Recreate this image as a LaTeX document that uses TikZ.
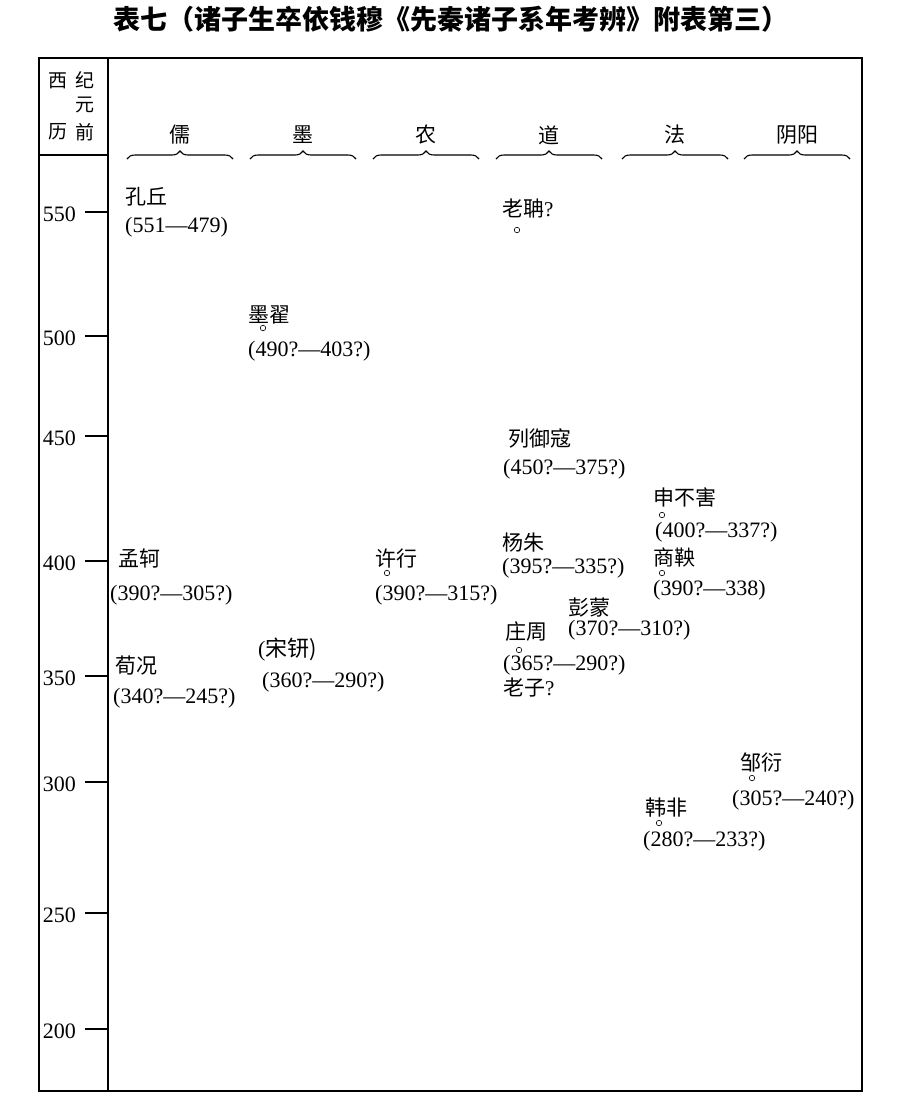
\documentclass[tikz,border=0pt]{standalone}
\usepackage{fontspec}
\setmainfont{Liberation Serif}
\newfontfamily\cjk{Noto Sans CJK SC}
\usepackage{tikz}
\usetikzlibrary{decorations.pathreplacing}
\tikzset{
  nd_name/.style={
    anchor=base west, inner sep=0pt,
    font=\cjk\fontsize{21}{24}\selectfont},
  nd_yrs/.style={
    anchor=base west, inner sep=0pt,
    font=\fontsize{22}{24}\selectfont},
  nd_mark/.style={
    circle, draw=black, line width=0.6pt,
    minimum size=5.5pt, inner sep=0pt},
  nd_school/.style={
    inner sep=0pt, font=\cjk\fontsize{21}{24}\selectfont},
  nd_head/.style={
    inner sep=0pt, font=\cjk\fontsize{19}{22}\selectfont},
  nd_year/.style={
    anchor=east, inner sep=0pt, font=\fontsize{22}{24}\selectfont},
  frm/.style={line width=1.5pt},
  tck/.style={line width=1.3pt},
  brc/.style={decorate, decoration={brace, amplitude=8pt}, line width=1.1pt},
}

\begin{document}
\begin{tikzpicture}[x=1pt,y=-1pt]
\useasboundingbox (0,0) rectangle (902,1104);

%% title
\node[font=\cjk\bfseries\fontsize{27}{30}\selectfont] at (451,19) (TT)
  {表七（诸子生卒依钱穆《先秦诸子系年考辨》附表第三）};

%% frame
\draw[frm] (39,58) rectangle (862,1091);
\draw[frm] (108,58) -- (108,1091);
\draw[frm] (39,155) -- (108,155);

%% year column header
\node[nd_head] at (58,81)  (H1){西};
\node[nd_head] at (58,132) (H2){历};
\node[nd_head] at (85,80)  (H3){纪};
\node[nd_head] at (85,105) (H4){元};
\node[nd_head] at (85,132) (H5){前};

%% year scale
\foreach \v/\y in {550/212,500/336,450/436,400/561,350/676,300/782,250/913,200/1029}
  {\node[nd_year] at (76,\y+2) (Y\v){\v};
   \draw[tck] (85,\y) -- (108,\y);}

%% schools + braces
\foreach \x/\s/\n in {180/儒/Ru,303/墨/Mo,426/农/Nong,549/道/Dao,675/法/Fa,797/阴阳/YY}
  {\node[nd_school] at (\x,135) (S\n){\s};
   \draw[brc] (\x-53,159) -- (\x+53,159);}

%% 儒
\node[nd_name] at (125,204) (KQ){孔丘};
\node[nd_yrs]  at (125,232) (KQy){(551—479)};
\node[nd_name] at (118,566) (MK){孟轲};
\node[nd_yrs]  at (110,600) (MKy){(390?—305?)};
\node[nd_name] at (115,673) (XK){荀况};
\node[nd_yrs]  at (113,703) (XKy){(340?—245?)};

%% 墨
\node[nd_name] at (248,322) (MD){墨翟};
\node[nd_mark] at (263,328) (MDm){};
\node[nd_yrs]  at (248,356) (MDy){(490?—403?)};
\node[nd_yrs]  at (258,656) (SX){(\cjk 宋钘)};
\node[nd_yrs]  at (262,687) (SXy){(360?—290?)};

%% 农
\node[nd_name] at (375,566) (XX){许行};
\node[nd_mark] at (387,573) (XXm){};
\node[nd_yrs]  at (375,600) (XXy){(390?—315?)};

%% 道
\node[nd_name] at (502,216) (LD){老聃{\rmfamily ?}};
\node[nd_mark] at (517,230) (LDm){};
\node[nd_name] at (508,446) (LY){列御寇};
\node[nd_yrs]  at (503,474) (LYy){(450?—375?)};
\node[nd_name] at (502,550) (YZ){杨朱};
\node[nd_yrs]  at (502,573) (YZy){(395?—335?)};
\node[nd_name] at (568,615) (PM){彭蒙};
\node[nd_yrs]  at (568,635) (PMy){(370?—310?)};
\node[nd_name] at (505,639) (ZZ){庄周};
\node[nd_mark] at (519,650) (ZZm){};
\node[nd_yrs]  at (503,670) (ZZy){(365?—290?)};
\node[nd_name] at (503,695) (LZ){老子{\rmfamily ?}};

%% 法
\node[nd_name] at (653,505) (SB){申不害};
\node[nd_mark] at (662,515) (SBm){};
\node[nd_yrs]  at (655,537) (SBy){(400?—337?)};
\node[nd_name] at (653,565) (SY){商鞅};
\node[nd_mark] at (662,573) (SYm){};
\node[nd_yrs]  at (653,595) (SYy){(390?—338)};
\node[nd_name] at (645,815) (HF){韩非};
\node[nd_mark] at (659,823) (HFm){};
\node[nd_yrs]  at (643,846) (HFy){(280?—233?)};

%% 阴阳
\node[nd_name] at (740,770) (ZY){邹衍};
\node[nd_mark] at (752,778) (ZYm){};
\node[nd_yrs]  at (732,805) (ZYy){(305?—240?)};

\end{tikzpicture}
\end{document}
